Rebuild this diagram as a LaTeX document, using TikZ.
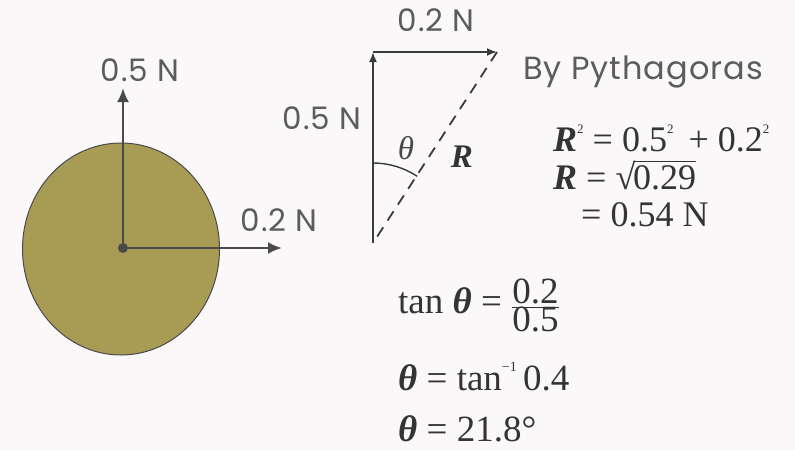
\documentclass[tikz,border=0pt]{standalone}
\usepackage{fontspec}
\setmainfont{Liberation Serif}
\newfontfamily\labelfont[LetterSpace=3]{Poppins}
\usepackage{tikz}
\usetikzlibrary{positioning, arrows.meta, shapes.geometric}
\definecolor{ballolive}{HTML}{A89C55}
\definecolor{inkgrey}{HTML}{4A4A4A}
\definecolor{pagewhite}{HTML}{FBF8FA}
\newcommand{\tinysq}{\raisebox{0.5em}{\fontsize{13}{13}\selectfont 2}}
\newcommand{\rootof}[1]{√\kern-0.06em\rlap{\rule[0.74em]{\widthof{#1}}{1.2pt}}#1}
\usepackage{calc}

\begin{document}
\begin{tikzpicture}[x=1pt, y=-1pt,
    force/.style={draw=inkgrey, line width=2.6pt, -{Latex[length=14pt,width=12pt]}},
    side/.style={draw=inkgrey!80!black, line width=1.8pt, -{Latex[length=10pt,width=8pt]}},
    flabel/.style={font=\labelfont\fontsize{31}{34}\selectfont, text=inkgrey!90, inner sep=0pt},
    eqn/.style={font=\fontsize{36}{40}\selectfont, text=inkgrey!70!black, inner sep=0pt, anchor=base west},
    tanline/.style={font=\fontsize{37}{40}\selectfont, text=inkgrey!70!black, inner sep=0pt, anchor=base west}]
  \fill[pagewhite] (0,0) rectangle (795,450);
  \useasboundingbox (0,0) rectangle (795,450);

  \node[ellipse, draw=inkgrey, line width=1pt, fill=ballolive,
        minimum width=197pt, minimum height=212pt] (ball) at (121,249) {};
  \coordinate (centre) at (123,248);
  \coordinate (uptip) at (123,88);
  \coordinate (righttip) at (282,248);
  \draw[force] (centre) -- (uptip);
  \draw[force] (centre) -- (righttip);
  \fill[inkgrey] (centre) circle (5);
  \node[flabel] (uplabel) at (140,70) {0.5 N};
  \node[flabel] (rightlabel) at (279,220) {0.2 N};

  \coordinate (base) at (373,243);
  \coordinate (corner) at (373,52);
  \coordinate (head) at (497,52);
  \draw[side] (base) -- (corner);
  \draw[side] (corner) -- (head);
  \draw[inkgrey!80!black, line width=1.8pt, dash pattern=on 11pt off 8pt] (head) -- (base);
  \draw[inkgrey!80!black, line width=1.4pt] (base) ++(0,-80) arc[start angle=-90, end angle=-56.5, radius=80];
  \node[flabel] (sidelabel) at (322,118) {0.5 N};
  \node[flabel] (toplabel) at (436,20) {0.2 N};
  \node[font=\fontsize{33}{36}\selectfont\itshape, text=inkgrey, inner sep=0pt] (theta) at (406,148) {θ};
  \node[font=\fontsize{33}{36}\selectfont\bfseries\itshape, text=inkgrey!70!black, inner sep=0pt] (rlabel) at (462,157) {R};

  \node[font=\labelfont\fontsize{32}{34}\selectfont, text=inkgrey!90, inner sep=0pt] (pyth) at (643,72) {By Pythagoras};
  \node[eqn] (line1) at (553,151) {\textbf{\textit{R}}\tinysq{} = 0.5\tinysq{}\, + 0.2\tinysq};
  \node[eqn] (line2) at (553,189) {\textbf{\textit{R}} = \rootof{0.29}};
  \node[eqn] (line3) at (581,226) {= 0.54 N};

  \node[tanline] (tan1) at (398,313) {tan \textbf{\textit{θ}} = $\frac{\hbox{0.2}}{\hbox{0.5}}$};
  \node[tanline] (tan2) at (398,390) {\textbf{\textit{θ}} = tan\raisebox{0.5em}{\fontsize{14}{14}\selectfont −1}\,0.4};
  \node[tanline] (tan3) at (398,441) {\textbf{\textit{θ}} = 21.8°};
\end{tikzpicture}
\end{document}
